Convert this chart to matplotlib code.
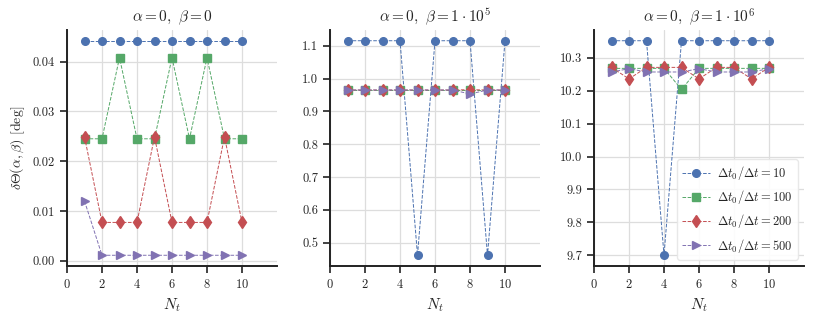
import numpy as np
import matplotlib
matplotlib.use("Agg")
import matplotlib.pyplot as plt
import seaborn as sns

sns.set_theme(style="ticks")
plt.rcParams['font.family'] = 'serif'
plt.rcParams['font.serif'] = ['cmr10', 'DejaVu Serif']
plt.rcParams['mathtext.fontset'] = 'cm'
plt.rcParams['axes.formatter.use_mathtext'] = True
plt.rcParams['axes.unicode_minus'] = False

Nt = [1, 2, 3, 4, 5, 6, 7, 8, 9, 10]
ratios = [10, 100, 200, 500]
titles = [r'$\alpha=0,\ \beta=0$', r'$\alpha=0,\ \beta=1\cdot10^5$', r'$\alpha=0,\ \beta=1\cdot10^6$']

# beta = 0
b0_10 = [0.0442] * 10
b0_100 = [0.0245, 0.0245, 0.0408, 0.0245, 0.0245, 0.0408, 0.0245, 0.0408, 0.0245, 0.0245]
b0_200 = [0.0249, 0.0077, 0.0077, 0.0077, 0.0249, 0.0077, 0.0077, 0.0077, 0.0249, 0.0077]
b0_500 = [0.0120, 0.0011, 0.0011, 0.0011, 0.0011, 0.0011, 0.0011, 0.0011, 0.0011, 0.0011]

# beta = 1e5
b5_10 = [1.115, 1.115, 1.115, 1.115, 0.462, 1.115, 1.115, 1.115, 0.462, 1.115]
b5_100 = [0.965] * 10
b5_200 = [0.965, 0.965, 0.965, 0.965, 0.965, 0.965, 0.965, 0.966, 0.965, 0.965]
b5_500 = [0.965, 0.965, 0.965, 0.965, 0.965, 0.965, 0.965, 0.953, 0.965, 0.965]

# beta = 1e6
b6_10 = [10.352, 10.352, 10.352, 9.700, 10.352, 10.352, 10.352, 10.352, 10.352, 10.352]
b6_100 = [10.268, 10.268, 10.268, 10.268, 10.204, 10.268, 10.268, 10.268, 10.268, 10.268]
b6_200 = [10.271, 10.236, 10.271, 10.271, 10.271, 10.236, 10.271, 10.271, 10.236, 10.271]
b6_500 = [10.257, 10.267, 10.257, 10.257, 10.257, 10.267, 10.257, 10.257, 10.257, 10.267]

panels = [[b0_10, b0_100, b0_200, b0_500],
          [b5_10, b5_100, b5_200, b5_500],
          [b6_10, b6_100, b6_200, b6_500]]

colors = ['#4C72B0', '#55A868', '#C44E52', '#8172B2']
markers = ['o', 's', 'd', '>']

fig = plt.figure(figsize=(8.22, 3.22), dpi=100)
lefts = [67, 330, 594]
W, H = 822, 322
axes = []
for i in range(3):
    ax = fig.add_axes([lefts[i] / W, (H - 266) / H, 210 / W, 236 / H])
    axes.append(ax)
    for s, c, m, r in zip(panels[i], colors, markers, ratios):
        ax.plot(Nt, s, ls='--', lw=0.7, color=c, marker=m, ms=5.5 if m != 'd' else 6,
                label=r'$\Delta t_0/\Delta t=%d$' % r)
    ax.set_xlim(0, 12)
    ax.set_xticks([0, 2, 4, 6, 8, 10])
    ax.grid(True, color='#dddddd', lw=0.9)
    ax.set_axisbelow(True)
    ax.set_title(titles[i], fontsize=11)
    ax.set_xlabel(r'$N_t$', fontsize=11)
    ax.tick_params(labelsize=9, length=5, width=1.2, color='#222222')
    for sp in ['left', 'bottom']:
        ax.spines[sp].set_linewidth(1.4)
        ax.spines[sp].set_color('#222222')
    sns.despine(ax=ax)

axes[0].set_ylabel(r'$\delta\Theta(\alpha,\beta)$ [deg]', fontsize=10)
axes[0].set_yticks([0.0, 0.01, 0.02, 0.03, 0.04])
axes[0].yaxis.set_major_formatter(matplotlib.ticker.FormatStrFormatter('%.2f'))
axes[1].yaxis.set_major_formatter(matplotlib.ticker.FormatStrFormatter('%.1f'))
axes[2].yaxis.set_major_formatter(matplotlib.ticker.FormatStrFormatter('%.1f'))
axes[2].legend(loc='lower right', fontsize=9, frameon=True, framealpha=0.9,
               edgecolor='#e6e6e6', handlelength=2.2, borderpad=0.4,
               labelspacing=0.5, handletextpad=0.6, borderaxespad=0.5)

fig.savefig('out.png', dpi=100)
